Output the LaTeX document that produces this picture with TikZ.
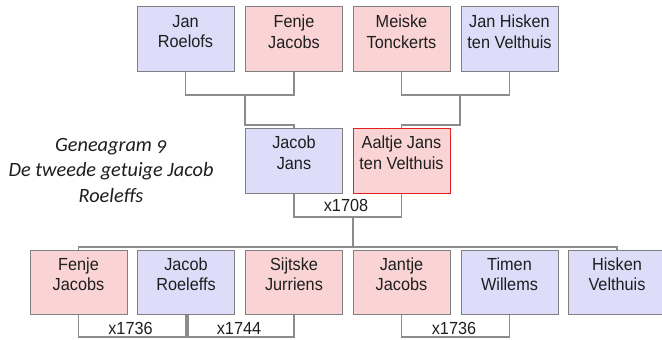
\documentclass[tikz,border=0pt]{standalone}
\usepackage{fontspec}
\setmainfont{Liberation Sans}[FakeStretch=0.93]
\newfontfamily\titlefont[Numbers=OldStyle]{Carlito}
\definecolor{mblue}{RGB}{221,221,250}
\definecolor{mpink}{RGB}{250,212,212}
\definecolor{bordergray}{RGB}{128,128,128}
\definecolor{linegray}{RGB}{140,140,140}
\definecolor{redborder}{RGB}{228,32,32}
\definecolor{txt}{RGB}{30,30,30}
\pgfdeclarelayer{bglayer}
\pgfdeclarelayer{lineslayer}
\pgfsetlayers{bglayer,lineslayer,main}
\tikzset{
  person/.style={draw=bordergray, line width=0.9pt, minimum width=97pt, minimum height=65pt, inner sep=0pt, outer sep=0pt},
  male/.style={person, fill=mblue},
  female/.style={person, fill=mpink},
  lowrow/.style={minimum height=64pt},
  nm/.style={font=\fontsize{17.5}{20.5}\selectfont, text=txt, align=center, inner sep=0pt},
  conn/.style={draw=linegray, line width=1.3pt},
  year/.style={font=\fontsize{17.5}{20}\selectfont, text=txt, inner sep=0pt}
}
\begin{document}
\begin{tikzpicture}[x=1pt,y=1pt]
\useasboundingbox (0,0) rectangle (662,-340);
\begin{pgfonlayer}{bglayer}
\fill[white] (0,0) rectangle (662,-340);
\end{pgfonlayer}
% helper coordinates
\coordinate (tl) at (245,-95);
\coordinate (tlb) at (245,-125);
\coordinate (tr) at (460,-95);
\coordinate (trb) at (460,-125);
\coordinate (mm) at (353,-217);
\coordinate (bar) at (353,-247);
\coordinate (m1) at (78.5,-337);
\coordinate (m2) at (188,-337);
\coordinate (m3) at (401.5,-337);
% top row
\node[male]   (jr) at (185.5,-38.5) {};
\node[female] (fj) at (294,-38.5) {};
\node[female] (mt) at (401.5,-38.5) {};
\node[male]   (jh) at (509.5,-38.5) {};
% middle
\node[male]   (jj) at (294,-160.5) {};
\node[female, draw=redborder] (aj) at (401.5,-160.5) {};
% bottom
\node[female,lowrow] (fj2) at (78.5,-282) {};
\node[male,lowrow]   (jro) at (186,-282) {};
\node[female,lowrow] (sj)  at (294,-282) {};
\node[female,lowrow] (jaj) at (401.5,-282) {};
\node[male,lowrow]   (tw)  at (509.5,-282) {};
\node[male,lowrow]   (hv)  at (617,-282) {};
% connectors
\begin{pgfonlayer}{lineslayer}
\draw[conn] (jr.south) |- (tl) -| (fj.south);
\draw[conn] (tl) -- (tlb) -| (jj.north);
\draw[conn] (mt.south) |- (tr) -| (jh.south);
\draw[conn] (tr) -- (trb) -| (aj.north);
\draw[conn] (jj.south) |- (mm) -| (aj.south);
\draw[conn] (mm) -- (bar);
\draw[conn] (fj2.north) |- (bar) -| (hv.north);
\draw[conn] (fj2.south) -- (m1) -| (jro.south);
\draw[conn] (m2 |- jro.south) -- (m2) -| (sj.south);
\draw[conn] (jaj.south) -- (m3) -| (tw.south);
\end{pgfonlayer}
% names
\node[nm] (jr-t)  at ([yshift=7pt]jr.center)  {Jan\\Roelofs};
\node[nm] (fj-t)  at ([yshift=7pt]fj.center)  {Fenje\\Jacobs};
\node[nm] (mt-t)  at ([yshift=7pt]mt.center)  {Meiske\\Tonckerts};
\node[nm] (jh-t)  at ([yshift=7pt]jh.center)  {Jan Hisken\\ten Velthuis};
\node[nm] (jj-t)  at ([yshift=8pt]jj.center)  {Jacob\\Jans};
\node[nm] (aj-t)  at ([yshift=8pt]aj.center)  {Aaltje Jans\\ten Velthuis};
\node[nm] (fj2-t) at ([yshift=8pt]fj2.center) {Fenje\\Jacobs};
\node[nm] (jro-t) at ([yshift=8pt]jro.center) {Jacob\\Roeleffs};
\node[nm] (sj-t)  at ([yshift=8pt]sj.center)  {Sijtske\\Jurriens};
\node[nm] (jaj-t) at ([yshift=8pt]jaj.center) {Jantje\\Jacobs};
\node[nm] (tw-t)  at ([yshift=8pt]tw.center)  {Timen\\Willems};
\node[nm] (hv-t)  at ([yshift=8pt]hv.center)  {Hisken\\Velthuis};
% years
\node[year] (y1) at (346,-205) {x1708};
\node[year] (y2) at (130.5,-328) {x1736};
\node[year] (y3) at (239,-328) {x1744};
\node[year] (y4) at (454,-328) {x1736};
% title
\node[font=\titlefont\itshape\fontsize{20.3}{25.5}\selectfont, text=txt, align=center, inner sep=0pt] (title) at (111,-170) {Geneagram 9\\De tweede getuige Jacob\\Roeleffs};
\end{tikzpicture}
\end{document}
